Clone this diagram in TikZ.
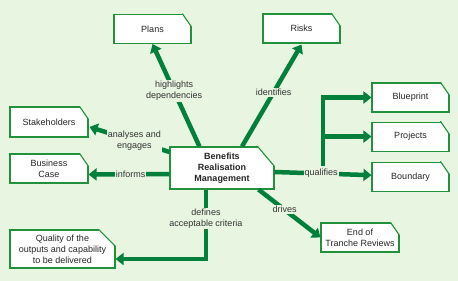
\documentclass[tikz,border=0pt]{standalone}
\usepackage{fontspec}
\setmainfont{Liberation Sans}
\usetikzlibrary{arrows.meta,positioning}
\definecolor{bgcol}{RGB}{231,245,225}
\definecolor{linecol}{RGB}{0,128,58}
\definecolor{edgecol}{RGB}{34,145,60}
\tikzset{
  tabbox/.style ={draw=edgecol,line width=1.1pt,fill=white,align=center,
                  font=\fontsize{9}{11}\selectfont,text=black!85,
                  minimum width=77pt,minimum height=29pt,inner sep=2pt},
  flow/.style   ={-{Triangle[length=8pt,width=12pt]},line width=4.5pt,draw=linecol},
  lab/.style    ={fill=bgcol,font=\fontsize{9}{11}\selectfont,text=black!80,align=center,inner sep=1pt}
}
\begin{document}
\begin{tikzpicture}[x=1pt,y=-1pt]
  \path[use as bounding box,fill=bgcol] (0,0) rectangle (458,281);
  \node[tabbox,minimum width=104pt,minimum height=42pt,font=\fontsize{9}{11}\selectfont\bfseries]
        (brm) at (222,168) {Benefits\\Realisation\\Management};
  \node[tabbox] (plans) at (152.5,29) {Plans};
  \node[tabbox] (risks) at (301.5,28.5) {Risks};
  \node[tabbox,minimum width=78pt,minimum height=30pt] (stake) at (49,122) {Stakeholders};
  \node[tabbox,minimum width=78pt] (bcase) at (49,168.5) {Business\\Case};
  \node[tabbox,minimum width=105pt,minimum height=38pt] (qual) at (62.5,249)
        {Quality of the\\outputs and capability\\to be delivered};
  \node[tabbox] (blue) at (410.5,97.5) {Blueprint};
  \node[tabbox,below=9pt of blue] (proj) {Projects};
  \node[tabbox,below=10pt of proj] (bound) {Boundary};
  \node[tabbox,minimum width=78pt] (eot) at (360,237.5) {End of\\Tranche Reviews};
  % cut corners
  \foreach \n/\cx/\cy in {brm/17/20,plans/9/13,risks/9/13,stake/9/13,bcase/9/13,qual/17/17,
                          blue/9/13,proj/9/13,bound/9/13,eot/9/13}{
    \fill[bgcol] ([xshift=-\cx pt]\n.north east) -- ([xshift=-\cx pt,yshift=2pt]\n.north east)
      -- ([xshift=3pt,yshift=2pt]\n.north east) -- ([xshift=3pt,yshift=-\cy pt]\n.north east)
      -- ([yshift=-\cy pt]\n.north east) -- cycle;
    \draw[edgecol,line width=1.1pt,line cap=round] ([xshift=-\cx pt]\n.north east) -- ([yshift=-\cy pt]\n.north east);
  }
  \draw[flow] ([xshift=30pt]brm.north west) -- node[lab,pos=0.54]{highlights\\dependencies} (plans.south);
  \draw[flow] ([xshift=20pt]brm.north) -- node[lab,pos=0.53]{identifies} ([yshift=-1pt]risks.south);
  \draw[flow] ([yshift=16pt]brm.west) -- node[lab,pos=0.44]{analyses and\\engages} ([xshift=1pt,yshift=-5pt]stake.east);
  \draw[flow] ([yshift=-6pt]brm.west) -- node[lab,pos=0.48]{informs} ([yshift=-6pt]bcase.east);
  \draw[flow] ([xshift=-16pt]brm.south) |- node[lab,pos=0.21]{defines\\acceptable criteria} ([yshift=-10pt]qual.east);
  \draw[flow] ([xshift=-16pt]brm.south east) -- node[lab,pos=0.42]{drives} (eot.west);
  \draw[flow] ([yshift=-4pt]brm.east) -- node[lab,pos=0.48] (qlab) {qualifies} ([yshift=1.5pt]bound.west);
  \coordinate (trunk) at ([xshift=2pt]qlab.north);
  \draw[flow] (trunk) |- (blue.west);
  \draw[flow] (trunk |- proj.west) -- (proj.west);
\end{tikzpicture}
\end{document}
